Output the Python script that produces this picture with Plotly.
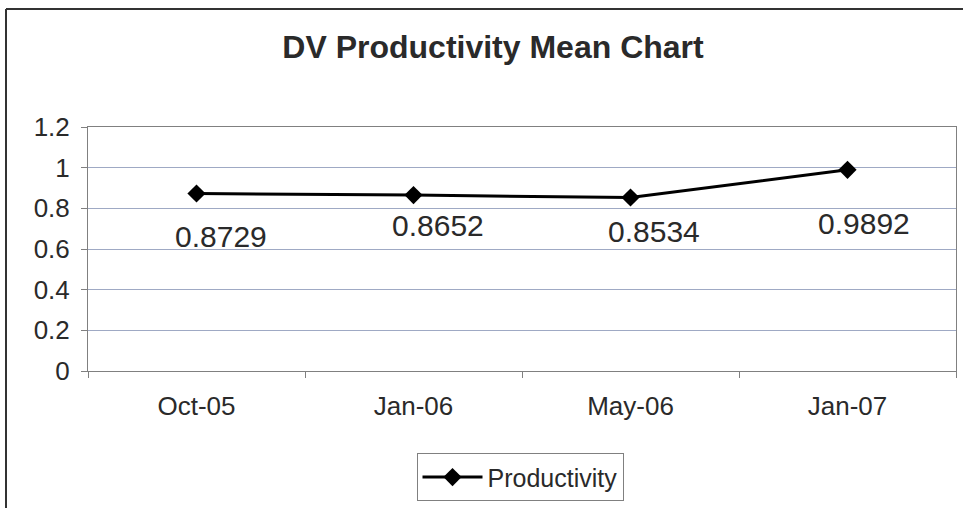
import plotly.graph_objects as go

categories = ["Oct-05", "Jan-06", "May-06", "Jan-07"]
productivity = [0.8729, 0.8652, 0.8534, 0.9892]
label_texts = ["0.8729", "0.8652", "0.8534", "0.9892"]
y_ticks = [0, 0.2, 0.4, 0.6, 0.8, 1.0, 1.2]

W, H = 963, 508
L, R, T, B = 88, 7, 127, 135
pw, ph = W - L - R, H - T - B

def px_x(px):
    return (px - L) / pw

def px_y(py):
    return (H - B - py) / ph

FONT = "Liberation Sans, Arial, sans-serif"
TXT = "#2a2a2a"

fig = go.Figure()
fig.add_trace(go.Scatter(
    x=categories, y=productivity, mode="lines+markers", name="Productivity",
    line=dict(color="black", width=3),
    marker=dict(symbol="diamond", size=14, color="black"),
))

# data label offsets (pixels)
shifts = [(24, -43), (24, -30), (23, -34), (16, -54)]
for c, v, t, (dx, dy) in zip(categories, productivity, label_texts, shifts):
    fig.add_annotation(x=c, y=v, text=t, showarrow=False, xshift=dx, yshift=dy,
                       font=dict(family=FONT, size=30, color=TXT))

# outer chart border (top and left visible)
fig.add_shape(type="line", xref="paper", yref="paper",
              x0=px_x(6), x1=px_x(W + 5), y0=px_y(8), y1=px_y(8),
              line=dict(color="#333", width=2))
fig.add_shape(type="line", xref="paper", yref="paper",
              x0=px_x(6), x1=px_x(6), y0=px_y(8), y1=px_y(H + 5),
              line=dict(color="#333", width=2))

fig.update_layout(
    width=W, height=H,
    margin=dict(l=L, r=R, t=T, b=B),
    paper_bgcolor="white", plot_bgcolor="white",
    font=dict(family=FONT, color=TXT),
    title=dict(text="<b>DV Productivity Mean Chart</b>", x=px_x(493), xref="paper",
               xanchor="center", y=1 - 47 / H, yanchor="middle",
               font=dict(family=FONT, size=32, color=TXT)),
    showlegend=True,
    legend=dict(x=px_x(520), y=px_y(456), xanchor="center", yanchor="top",
                bordercolor="#808080", borderwidth=1, bgcolor="white",
                font=dict(family=FONT, size=25, color=TXT),
                itemwidth=60),
    xaxis=dict(type="category", range=[-0.5, 3.5], showgrid=False,
               showline=True, linecolor="#808080", linewidth=1, mirror=True,
               ticks="outside", tickson="boundaries", ticklen=6, tickcolor="#808080",
               tickfont=dict(family=FONT, size=26, color=TXT),
               ticklabelstandoff=12),
    yaxis=dict(range=[0, 1.2], tickvals=y_ticks, showgrid=True,
               gridcolor="#9fa9c4", gridwidth=1, zeroline=False,
               showline=True, linecolor="#808080", linewidth=1, mirror=True,
               ticks="outside", ticklen=6, tickcolor="#808080",
               tickfont=dict(family=FONT, size=26, color=TXT),
               ticklabelstandoff=6),
)

fig.write_html("out.html", config={"displayModeBar": False},
               post_script="document.body.style.margin='0px';")
